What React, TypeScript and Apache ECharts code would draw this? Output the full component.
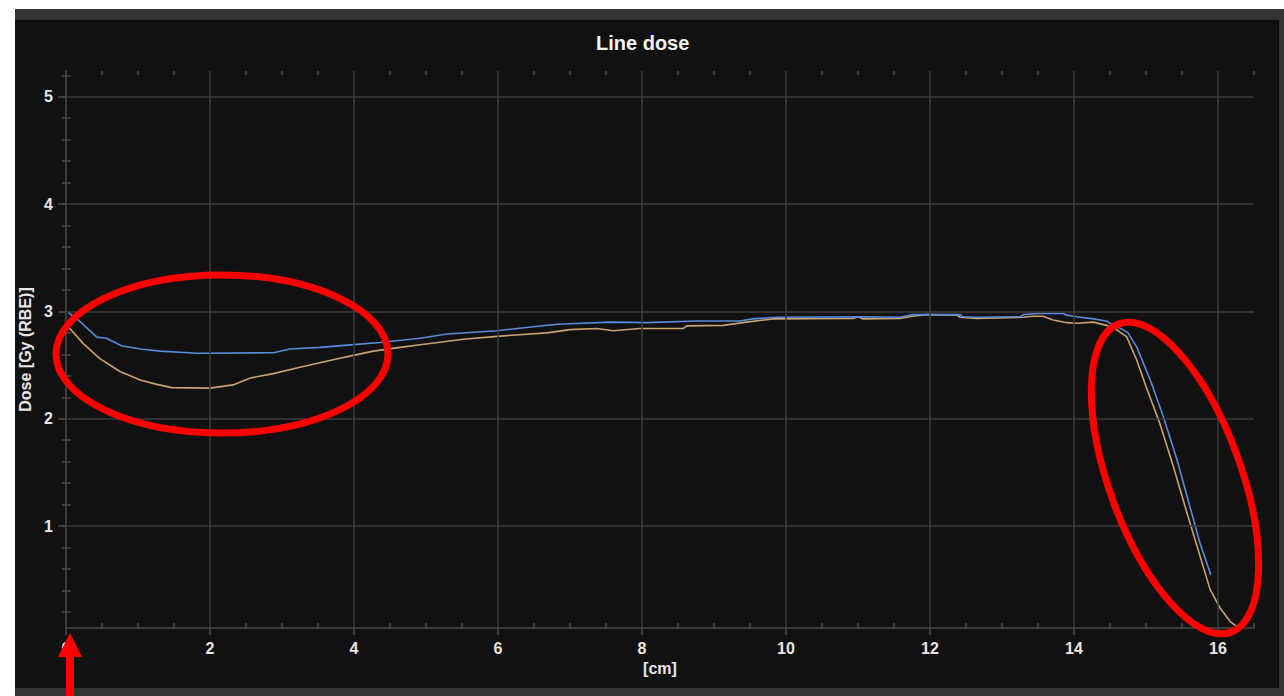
import React, { useEffect, useRef } from "react";
import * as echarts from "echarts";

// ---- data ----
const blueX = [0.03, 0.17, 0.3, 0.43, 0.56, 0.77, 1.03, 1.31, 1.82, 2.88, 3.11, 3.53, 3.99, 4.36, 4.92, 5.29, 5.98, 6.82, 7.56, 8.07, 8.76, 9.36, 9.54, 9.87, 11.03, 11.58, 11.76, 12.42, 12.46, 12.65, 13.25, 13.3, 13.48, 13.85, 13.9, 14.04, 14.27, 14.45, 14.5, 14.68, 14.75, 14.87, 15.06, 15.24, 15.43, 15.61, 15.75, 15.9];
const blueY = [2.99, 2.92, 2.84, 2.76, 2.75, 2.68, 2.65, 2.63, 2.61, 2.615, 2.65, 2.665, 2.69, 2.71, 2.75, 2.79, 2.82, 2.88, 2.9, 2.895, 2.91, 2.91, 2.93, 2.945, 2.95, 2.945, 2.97, 2.97, 2.95, 2.945, 2.95, 2.97, 2.98, 2.98, 2.965, 2.95, 2.93, 2.91, 2.89, 2.83, 2.8, 2.67, 2.36, 2.02, 1.62, 1.18, 0.84, 0.545];

const tanX = [0.03, 0.24, 0.47, 0.75, 1.03, 1.26, 1.47, 2.0, 2.32, 2.56, 2.88, 3.25, 3.71, 3.99, 4.27, 4.64, 4.92, 5.52, 6.03, 6.68, 7.0, 7.37, 7.6, 7.97, 8.57, 8.62, 9.13, 9.45, 9.82, 10.93, 11.0, 11.07, 11.58, 11.76, 11.95, 12.37, 12.42, 12.65, 13.3, 13.43, 13.57, 13.71, 13.9, 14.04, 14.27, 14.45, 14.59, 14.73, 14.87, 15.0, 15.19, 15.38, 15.57, 15.71, 15.89, 16.03, 16.17, 16.26];
const tanY = [2.86, 2.7, 2.56, 2.44, 2.36, 2.32, 2.29, 2.285, 2.315, 2.38, 2.42, 2.48, 2.55, 2.59, 2.63, 2.665, 2.69, 2.74, 2.77, 2.8, 2.83, 2.84, 2.82, 2.84, 2.84, 2.865, 2.87, 2.9, 2.93, 2.935, 2.95, 2.93, 2.935, 2.955, 2.97, 2.965, 2.945, 2.935, 2.945, 2.955, 2.955, 2.92, 2.895, 2.89, 2.9, 2.87, 2.83, 2.765, 2.55, 2.3, 1.96, 1.555, 1.12, 0.81, 0.41, 0.235, 0.11, 0.065];

const xMajorTicks = [0, 2, 4, 6, 8, 10, 12, 14, 16];
const xMinorTicks = [0.5, 1, 1.5, 2.5, 3, 3.5, 4.5, 5, 5.5, 6.5, 7, 7.5, 8.5, 9, 9.5, 10.5, 11, 11.5, 12.5, 13, 13.5, 14.5, 15, 15.5, 16.5];
const yMajorTicks = [1, 2, 3, 4, 5];
const yMinorTicks = [0.2, 0.4, 0.6, 0.8, 1.2, 1.4, 1.6, 1.8, 2.2, 2.4, 2.6, 2.8, 3.2, 3.4, 3.6, 3.8, 4.2, 4.4, 4.6, 4.8, 5.2];
const xMin = 0;
const xMax = 16.5;
const yMin = 0.05;
const yMax = 5.24;

const FONT = "'Liberation Sans', Arial, sans-serif";
const GRID_COLOR = "#3d3d3d";
const AXIS_COLOR = "#4a4a4a";
const LABEL_COLOR = "#e6e6e6";
const RED = "#ff0000";

export default function App() {
  const ref = useRef<HTMLDivElement>(null);

  useEffect(() => {
    if (!ref.current) return;
    const chart = echarts.init(ref.current, undefined, { renderer: "svg" });

    const blueData = blueX.map((x, i) => [x, blueY[i]]);
    const tanData = tanX.map((x, i) => [x, tanY[i]]);

    const hiddenAxisX = {
      type: "value" as const,
      min: xMin,
      max: xMax,
      axisLine: { show: false },
      axisLabel: { show: false },
      splitLine: { show: false },
    };
    const hiddenAxisY = {
      type: "value" as const,
      min: yMin,
      max: yMax,
      axisLine: { show: false },
      axisLabel: { show: false },
      splitLine: { show: false },
    };

    const option: any = {
      animation: false,
      backgroundColor: "#ffffff",
      title: {
        text: "Line dose",
        left: 596,
        top: 33,
        padding: 0,
        textStyle: { color: "#f2f2f2", fontSize: 20, fontWeight: "bold", fontFamily: FONT },
      },
      grid: { left: 66, top: 71, width: 1188, height: 557, containLabel: false },
      xAxis: [
        {
          type: "value",
          position: "bottom",
          min: xMin,
          max: xMax,
          name: "[cm]",
          nameLocation: "middle",
          nameGap: 31,
          nameTextStyle: { color: LABEL_COLOR, fontSize: 16, fontWeight: "bold", fontFamily: FONT },
          axisLine: { show: true, lineStyle: { color: AXIS_COLOR, width: 1.5 } },
          axisTick: { show: true, inside: false, length: 7, customValues: xMajorTicks, lineStyle: { color: AXIS_COLOR, width: 1.5 } },
          axisLabel: { show: true, customValues: xMajorTicks, margin: 12, color: LABEL_COLOR, fontSize: 16, fontWeight: "bold", fontFamily: FONT },
          splitLine: { show: false },
        },
        {
          ...hiddenAxisX,
          position: "bottom",
          axisTick: { show: true, inside: true, length: 5, customValues: xMinorTicks, lineStyle: { color: AXIS_COLOR, width: 1.5 } },
        },
        {
          ...hiddenAxisX,
          position: "top",
          axisTick: { show: true, inside: true, length: 4, customValues: xMinorTicks, lineStyle: { color: AXIS_COLOR, width: 1.5 } },
        },
      ],
      yAxis: [
        {
          type: "value",
          position: "left",
          min: yMin,
          max: yMax,
          name: "Dose [Gy (RBE)]",
          nameLocation: "middle",
          nameGap: 29,
          nameTextStyle: { color: LABEL_COLOR, fontSize: 16, fontWeight: "bold", fontFamily: FONT },
          axisLine: { show: true, lineStyle: { color: AXIS_COLOR, width: 1.5 } },
          axisTick: { show: true, inside: false, length: 8, customValues: yMajorTicks, lineStyle: { color: AXIS_COLOR, width: 1.5 } },
          axisLabel: { show: true, customValues: yMajorTicks, margin: 13, color: LABEL_COLOR, fontSize: 16, fontWeight: "bold", fontFamily: FONT },
          splitLine: { show: false },
        },
        {
          ...hiddenAxisY,
          position: "left",
          axisTick: { show: true, inside: true, length: 5, customValues: yMinorTicks, lineStyle: { color: AXIS_COLOR, width: 1.5 } },
        },
        {
          ...hiddenAxisY,
          position: "right",
          axisTick: { show: true, inside: true, length: 4, customValues: [...yMinorTicks, ...yMajorTicks], lineStyle: { color: AXIS_COLOR, width: 1.5 } },
        },
      ],
      series: [
        {
          name: "grid",
          type: "line",
          data: [],
          silent: true,
          markLine: {
            silent: true,
            symbol: ["none", "none"],
            label: { show: false },
            lineStyle: { color: GRID_COLOR, width: 1.5, type: "solid" },
            data: [
              ...xMajorTicks.filter((v) => v > xMin).map((v) => ({ xAxis: v })),
              ...yMajorTicks.map((v) => ({ yAxis: v })),
            ],
          },
          z: 1,
        },
        {
          name: "tan",
          type: "line",
          data: tanData,
          showSymbol: false,
          symbol: "none",
          lineStyle: { color: "#c9a273", width: 1.6 },
          z: 3,
        },
        {
          name: "blue",
          type: "line",
          data: blueData,
          showSymbol: false,
          symbol: "none",
          lineStyle: { color: "#5a8ad8", width: 1.6 },
          z: 4,
        },
      ],
      graphic: [
        // frame / background
        { type: "rect", z: -10, silent: true, shape: { x: 15, y: 9, width: 1269, height: 687 }, style: { fill: "#333333" } },
        { type: "rect", z: -9, silent: true, shape: { x: 15, y: 20, width: 1264, height: 668 }, style: { fill: "#0b0b0b" } },
        { type: "rect", z: -8, silent: true, shape: { x: 15, y: 21, width: 1263, height: 667 }, style: { fill: "#111111" } },
        // annotations
        {
          type: "ellipse",
          z: 100,
          silent: true,
          shape: { cx: 222, cy: 354, rx: 166, ry: 79 },
          style: { fill: "none", stroke: RED, lineWidth: 7 },
        },
        {
          type: "ellipse",
          z: 100,
          silent: true,
          x: 1175,
          y: 478,
          rotation: (20 * Math.PI) / 180,
          shape: { cx: 0, cy: 0, rx: 66, ry: 164 },
          style: { fill: "none", stroke: RED, lineWidth: 7 },
        },
        {
          type: "polygon",
          z: 100,
          silent: true,
          shape: { points: [[58, 657], [82, 657], [70, 633]] },
          style: { fill: RED },
        },
        {
          type: "rect",
          z: 100,
          silent: true,
          shape: { x: 66, y: 655, width: 8, height: 41 },
          style: { fill: RED },
        },
      ],
    };

    chart.setOption(option);
    return () => chart.dispose();
  }, []);

  return (
    <div
      ref={ref}
      style={{ position: "absolute", left: 0, top: 0, width: 1284, height: 696 }}
    />
  );
}
